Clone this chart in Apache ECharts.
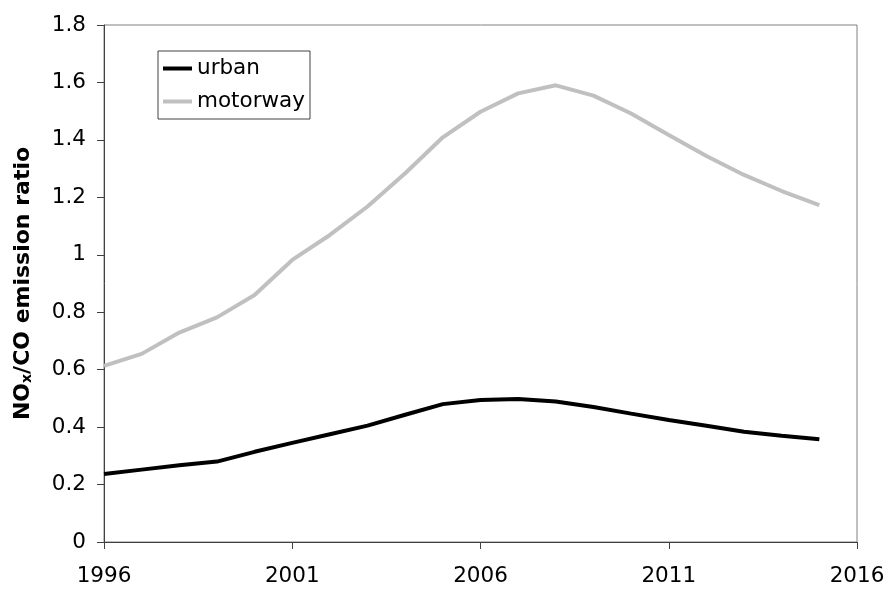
<!DOCTYPE html>
<html>
<head>
<meta charset="utf-8">
<script src="https://cdn.jsdelivr.net/npm/echarts@6/dist/echarts.min.js"></script>
<style>
html,body{margin:0;padding:0;background:#fff;}
#c{width:887px;height:589px;}
</style>
</head>
<body>
<div id="c"></div>
<script>
var years = [1996,1997,1998,1999,2000,2001,2002,2003,2004,2005,2006,2007,2008,2009,2010,2011,2012,2013,2014,2015,2016];
var urban = [0.237,0.252,0.267,0.280,0.314,0.345,0.375,0.405,0.443,0.480,0.494,0.498,0.489,0.470,0.447,0.425,0.405,0.384,0.370,0.358];
var motorway = [0.613,0.655,0.729,0.782,0.860,0.982,1.069,1.168,1.284,1.409,1.498,1.562,1.590,1.554,1.492,1.417,1.344,1.278,1.222,1.173];
var yTicks = {min:0, max:1.8, step:0.2};

var FONT = 'DejaVu Sans';
var chart = echarts.init(document.getElementById('c'));
chart.setOption({
  animation:false,
  backgroundColor:'#ffffff',
  grid:{left:104, right:30, top:25, bottom:47, show:true, borderColor:'#808080', borderWidth:1,
        containLabel:false, outerBoundsMode:'none'},
  legend:{
    left:158, top:51, orient:'vertical',
    padding:[5,5,5,5], itemGap:8,
    itemWidth:29, itemHeight:4, icon:'rect',
    borderColor:'#404040', borderWidth:1, backgroundColor:'#fff',
    textStyle:{fontFamily:FONT, fontSize:21.5, color:'#000', lineHeight:25, padding:[0,0,0,0]},
    data:['urban','motorway']
  },
  xAxis:{
    type:'category', data:years.map(String), boundaryGap:false,
    axisLine:{lineStyle:{color:'#404040', width:1}},
    axisTick:{show:true, inside:false, length:7, interval:4, lineStyle:{color:'#404040'}},
    axisLabel:{interval:4, margin:23, fontFamily:FONT, fontSize:21.5, color:'#000'},
    splitLine:{show:false}
  },
  yAxis:{
    type:'value', min:yTicks.min, max:yTicks.max, interval:yTicks.step,
    axisLine:{show:true, lineStyle:{color:'#404040', width:1}},
    axisTick:{show:true, inside:false, length:7, lineStyle:{color:'#404040'}},
    axisLabel:{margin:18, fontFamily:FONT, fontSize:21.5, color:'#000'},
    splitLine:{show:false},
    name:'{m|NO}{s|x}{m|/CO emission ratio}',
    nameLocation:'middle', nameRotate:90, nameGap:70,
    nameTextStyle:{
      rich:{
        m:{fontFamily:FONT, fontSize:22, fontWeight:'bold', color:'#000', lineHeight:22, verticalAlign:'top'},
        s:{fontFamily:FONT, fontSize:14, fontWeight:'bold', color:'#000', lineHeight:14, padding:[14,0,0,0], verticalAlign:'bottom'}
      }
    }
  },
  series:[
    {name:'urban', type:'line', data:urban, showSymbol:false, color:'#000000',
     lineStyle:{color:'#000000', width:4}, itemStyle:{color:'#000000'}},
    {name:'motorway', type:'line', data:motorway, showSymbol:false, color:'#c0c0c0',
     lineStyle:{color:'#c0c0c0', width:4}, itemStyle:{color:'#c0c0c0'}}
  ]
});
</script>
</body>
</html>
